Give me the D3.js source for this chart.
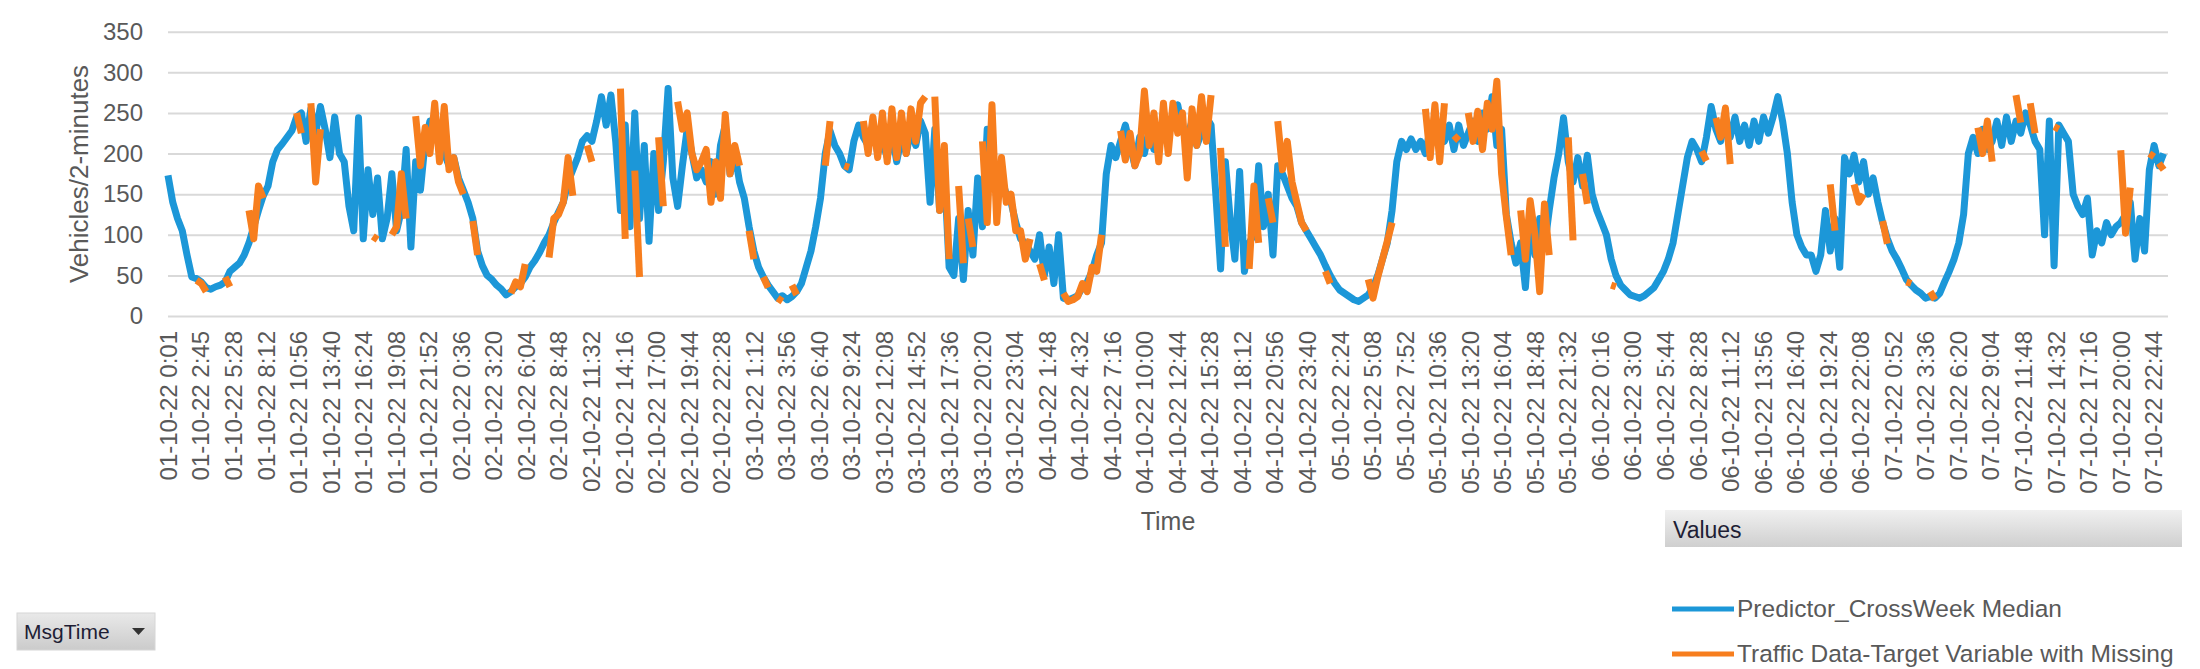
<!DOCTYPE html>
<html><head><meta charset="utf-8">
<script src="https://cdn.jsdelivr.net/npm/d3@7"></script>
<style>
html,body{margin:0;padding:0;background:#fff;}
svg{display:block;font-family:"Liberation Sans",Arial,sans-serif;}
</style>
</head><body>
<svg id="chart" width="2200" height="669"></svg>
<script>
// ---------- DATA ----------
const tickLabels = [
"01-10-22 0:01","01-10-22 2:45","01-10-22 5:28","01-10-22 8:12","01-10-22 10:56","01-10-22 13:40","01-10-22 16:24","01-10-22 19:08","01-10-22 21:52",
"02-10-22 0:36","02-10-22 3:20","02-10-22 6:04","02-10-22 8:48","02-10-22 11:32","02-10-22 14:16","02-10-22 17:00","02-10-22 19:44","02-10-22 22:28",
"03-10-22 1:12","03-10-22 3:56","03-10-22 6:40","03-10-22 9:24","03-10-22 12:08","03-10-22 14:52","03-10-22 17:36","03-10-22 20:20","03-10-22 23:04",
"04-10-22 1:48","04-10-22 4:32","04-10-22 7:16","04-10-22 10:00","04-10-22 12:44","04-10-22 15:28","04-10-22 18:12","04-10-22 20:56","04-10-22 23:40",
"05-10-22 2:24","05-10-22 5:08","05-10-22 7:52","05-10-22 10:36","05-10-22 13:20","05-10-22 16:04","05-10-22 18:48","05-10-22 21:32",
"06-10-22 0:16","06-10-22 3:00","06-10-22 5:44","06-10-22 8:28","06-10-22 11:12","06-10-22 13:56","06-10-22 16:40","06-10-22 19:24","06-10-22 22:08",
"07-10-22 0:52","07-10-22 3:36","07-10-22 6:20","07-10-22 9:04","07-10-22 11:48","07-10-22 14:32","07-10-22 17:16","07-10-22 20:00","07-10-22 22:44"
];
const yTicks = [0,50,100,150,200,250,300,350];

// Predictor_CrossWeek Median, one value every 12 readings (24 min)
const blueDay1 = [173,140,120,105,75,48,46,42,35,33, 36,38,42,55,60,65,75,90,110,130, 148,160,190,205,212,220,228,245,250,215, 255,225,258,230,195,245,200,190,135,105, 244,95,180,125,170,95,120,175,105,130, 205,85,190,155,215,240,225,215,200,185];
const blueDay2 = [195,170,155,140,120,80,62,50,45,38, 33,26,30,36,40,48,60,68,78,90, 100,115,128,140,165,180,195,215,222,215, 240,270,235,272,215,130,235,110,250,120, 210,92,200,130,190,280,170,135,185,230, 200,170,180,165,190,150,210,235,175,200];
const blueDay3 = [165,145,110,80,60,48,38,30,22,25, 20,24,30,40,60,80,110,145,200,228, 210,200,185,180,215,235,220,210,235,200, 215,195,225,190,220,200,230,210,240,225, 140,230,130,180,60,50,120,45,130,75, 170,110,230,195,180,170,150,140,115,95];
const blueDay4 = [90,80,70,100,50,85,40,100,22,20, 22,25,35,42,55,75,90,175,210,195, 215,235,210,185,220,200,230,205,215,225, 230,240,260,230,220,240,210,225,245,235, 150,58,190,120,70,178,55,90,100,185, 110,150,75,185,175,160,145,135,115,105];
const blueDay5 = [95,85,75,62,50,40,32,28,24,20, 18,22,26,35,50,70,90,130,190,215, 205,218,205,215,200,230,215,235,215,235, 205,235,210,225,240,215,250,230,270,210, 230,125,90,65,90,35,120,75,120,85, 130,170,200,244,190,165,195,160,198,150];
const blueDay6 = [130,115,100,70,50,38,32,26,24,22, 25,30,35,45,55,70,90,125,160,195, 215,205,190,220,258,230,215,245,220,245, 215,235,210,240,215,245,225,245,270,240, 200,140,100,85,75,75,55,75,130,80, 120,60,195,175,198,165,190,150,170,140];
const blueDay7 = [115,95,80,70,58,45,38,32,28,22, 24,22,28,42,55,70,90,125,200,220, 200,230,205,215,240,210,245,215,240,225, 250,235,215,205,100,240,62,235,225,215, 150,135,125,145,75,105,90,115,100,110, 115,125,140,70,120,80,180,210,185,200];

// Traffic Data-Target Variable with Missing: visible runs (start sample, values)
const orangeStart = [6,12,17,27,30,43,47,52,64,72,80,88,95,98,103,107,122,125,128,131,138,142,146,161,166,168,171,183,188,200,221,227,231,233,243,252,264,270,273,284,294,297,303,322,325,349,354,360,365,370,380,388,391,396,410,416,418];
const orangeValues = [
[44,40,30],[48,36],[130,95,160,145],[250,225],[262,165,230],[98,94],[100,110,175,120],
[246,185,232,200,262,190,258,180,195,165,150],[117,75],[28,42,36,64],[72,120,125,140,195,148],
[210,190],[280,95],[179,48],[220,135],[264,230,250,200,180,190,205,140,190,145,248,175,210,185],
[105,70],[48,35],[22,18],[38,26],[185,240],[185,183],
[240,200,245,195,250,190,255,195,250,200,255,215,262,270],[270,130,210,70],[160,65],[120,85],
[215,115,260,115,195,140,150,105,105,70,95],[64,44],[28,18,20,24,40,30,60,55,100],
[228,192,225,185,200,277,210,250,190,262,200,262,225,250,170,255,210,270,215,272],
[207,85],[58,160,90],[145,115],[240,180,215,165,140,115,105],[55,40],[45,22,48,70,92,115],
[255,195,260,190,262],[222,216],[250,215,252,205,262,230,289,175,122,75],[130,70,142,100,30,138,75],
[220,93],[175,138],[38,36],[203,191],[244,220,256,187],[162,105],[162,140,150],[117,89],
[42,40],[30,20],[232,200,240,190],[272,238],[262,225],[233,230],[204,102,158],[200,196],[188,180]
];
const seriesNames = ["Predictor_CrossWeek Median","Traffic Data-Target Variable with Missing"];
const totalReadings = 5040, sampleStep = 12, labelStep = 82;

// ---------- CHART ----------
(function () {
const svg = d3.select("#chart");
const blueC = "#1c97d8", orangeC = "#f77e1e", textC = "#595959";
const pL = 168, pR = 2168, pT = 31.7, pB = 316;
const FONT = '"Liberation Sans",Arial,sans-serif';
const LW = 7;

const x = d3.scaleLinear().domain([0, totalReadings - 1]).range([pL, pR]);
const y = d3.scaleLinear().domain([0, 350]).range([pB, pT]);

// gridlines + y ticks
const yAxis = d3.axisLeft(y).tickValues(yTicks).tickSize(-(pR - pL)).tickPadding(25);
const gy = svg.append("g").attr("transform", `translate(${pL},0)`).call(yAxis);
gy.select(".domain").remove();
gy.selectAll(".tick line").attr("stroke", "#d9d9d9").attr("stroke-width", 2);
gy.selectAll(".tick text").attr("fill", textC).attr("font-size", 24).attr("font-family", FONT);

// x axis labels
const tickIdx = tickLabels.map((d, i) => i * labelStep);
const xAxis = d3.axisBottom(x).tickValues(tickIdx).tickSize(0)
  .tickFormat((d, i) => tickLabels[i]);
const gx = svg.append("g").attr("transform", `translate(0,${pB})`).call(xAxis);
gx.select(".domain").remove();
gx.selectAll(".tick text")
  .attr("fill", textC).attr("font-size", 24).attr("font-family", FONT)
  .attr("text-anchor", "end")
  .attr("transform", "translate(0,15) rotate(-90)")
  .attr("x", 0).attr("y", 0).attr("dy", "0.35em");

// blue series
const blue = [].concat(blueDay1, blueDay2, blueDay3, blueDay4, blueDay5, blueDay6, blueDay7);
const line = d3.line().x(d => x(d[0])).y(d => y(d[1]));
svg.append("path")
  .datum(blue.map((v, j) => [j * sampleStep, v]))
  .attr("d", line).attr("fill", "none").attr("stroke", blueC)
  .attr("stroke-width", LW).attr("stroke-linejoin", "round");

// orange runs
orangeStart.forEach((s, k) => {
  svg.append("path")
    .datum(orangeValues[k].map((v, m) => [(s + m) * sampleStep, v]))
    .attr("d", line).attr("fill", "none").attr("stroke", orangeC)
    .attr("stroke-width", LW).attr("stroke-linejoin", "round");
});

// axis titles
svg.append("text").attr("transform", "translate(88,174) rotate(-90)")
  .attr("text-anchor", "middle").attr("fill", textC).attr("font-size", 26)
  .text("Vehicles/2-minutes");
svg.append("text").attr("x", (pL + pR) / 2).attr("y", 530)
  .attr("text-anchor", "middle").attr("fill", textC).attr("font-size", 25)
  .text("Time");

// legend (pivot-chart style)
const defs = svg.append("defs");
const gr = defs.append("linearGradient").attr("id", "barGrad").attr("x1", 0).attr("y1", 0).attr("x2", 0).attr("y2", 1);
gr.append("stop").attr("offset", "0%").attr("stop-color", "#f0f0f0");
gr.append("stop").attr("offset", "100%").attr("stop-color", "#cfcfcf");
svg.append("rect").attr("x", 1665).attr("y", 510).attr("width", 517).attr("height", 37)
  .attr("fill", "url(#barGrad)");
svg.append("text").attr("x", 1673).attr("y", 538).attr("font-size", 23)
  .attr("fill", "#1e1e35").text("Values");
const lg = svg.append("g");
[blueC, orangeC].forEach((c, i) => {
  const yy = 609 + i * 45;
  lg.append("line").attr("x1", 1672).attr("x2", 1734).attr("y1", yy).attr("y2", yy)
    .attr("stroke", c).attr("stroke-width", 5);
  lg.append("text").attr("x", 1737).attr("y", yy + 8).attr("font-size", 24.5)
    .attr("fill", textC).text(seriesNames[i]);
});

// field button
const gb = defs.append("linearGradient").attr("id", "btnGrad").attr("x1", 0).attr("y1", 0).attr("x2", 0).attr("y2", 1);
gb.append("stop").attr("offset", "0%").attr("stop-color", "#e9e9e9");
gb.append("stop").attr("offset", "100%").attr("stop-color", "#cbcbcb");
svg.append("rect").attr("x", 17).attr("y", 613).attr("width", 138).attr("height", 37)
  .attr("fill", "url(#btnGrad)").attr("stroke", "#d6d6d6");
svg.append("text").attr("x", 24).attr("y", 639).attr("font-size", 21)
  .attr("fill", "#1e1e35").text("MsgTime");
svg.append("path").attr("d", "M132,628 L145,628 L138.5,635 Z").attr("fill", "#333");
})();
</script>
</body></html>
